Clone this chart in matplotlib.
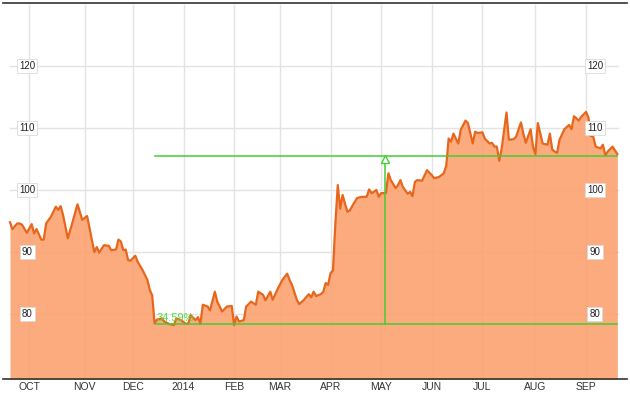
import matplotlib
matplotlib.use("Agg")
import matplotlib.pyplot as plt

plt.rcParams['font.family'] = ['Liberation Sans', 'DejaVu Sans']

# trading-day index and closing price
day = [0, 1, 3, 4, 5, 7, 9, 10, 11, 13, 14, 15, 17, 19, 20, 21, 22, 24, 26, 28,
       30, 32, 34, 35, 36, 37, 39, 41, 42, 44, 45, 46, 47, 48, 49, 50, 52, 53, 55, 57,
       58, 59, 60, 61, 63, 64, 66, 68, 69, 71, 73, 74, 75, 77, 78, 79, 80, 82, 83, 85,
       86, 88, 90, 92, 93, 94, 95, 97, 98, 100, 102, 103, 105, 106, 108, 109, 111, 113, 114, 115,
       116, 117, 119, 120, 122, 124, 125, 126, 127, 129, 130, 131, 132, 133, 134, 135, 136, 137, 138, 139,
       140, 141, 142, 144, 146, 148, 149, 150, 151, 152, 153, 154, 156, 157, 158, 160, 161, 162, 163, 165,
       166, 167, 168, 169, 171, 173, 175, 176, 178, 180, 181, 182, 183, 184, 186, 187, 189, 190, 192, 193,
       194, 196, 197, 199, 200, 201, 202, 203, 204, 206, 207, 209, 210, 212, 213, 214, 216, 217, 218, 219,
       221, 223, 224, 225, 226, 227, 228, 230, 232, 233, 234, 236, 237, 239, 240, 241, 242, 243, 245, 246,
       247, 248, 250, 252]
price = [94.8, 93.7, 94.6, 94.6, 94.4, 93.1, 94.5, 93.0, 93.7, 92.0, 92.0, 94.6, 95.7, 97.3, 96.8, 97.4, 96.0, 92.2, 94.9, 97.7,
         95.2, 95.8, 91.9, 90.0, 90.8, 89.9, 91.1, 91.0, 90.3, 90.4, 92.0, 91.7, 90.3, 90.4, 88.7, 88.6, 89.4, 88.4, 87.1, 85.5,
         83.9, 83.0, 78.5, 79.1, 79.3, 78.8, 78.4, 78.2, 79.3, 79.0, 78.4, 78.5, 79.8, 79.0, 79.5, 78.4, 81.5, 81.2, 80.6, 83.6,
         82.0, 80.4, 81.2, 81.3, 78.2, 79.6, 78.8, 79.0, 81.2, 82.0, 81.5, 83.6, 83.1, 82.2, 83.6, 82.3, 84.0, 85.5, 86.0, 86.5,
         85.5, 84.7, 82.3, 81.6, 82.3, 83.2, 82.7, 83.6, 82.9, 83.2, 83.6, 85.0, 84.7, 86.6, 87.0, 94.6, 100.8, 97.0, 99.2, 97.8,
         96.5, 96.7, 97.4, 98.7, 98.9, 98.9, 100.1, 99.5, 99.7, 100.0, 98.9, 99.5, 99.5, 102.7, 101.6, 100.3, 100.8, 101.6, 100.5, 99.4,
         99.7, 99.0, 101.3, 101.6, 101.5, 103.2, 102.4, 101.9, 102.1, 102.7, 103.9, 108.3, 107.8, 109.1, 107.5, 109.7, 111.2, 110.8, 107.5, 109.4,
         109.2, 109.3, 108.3, 107.5, 107.6, 107.0, 107.0, 104.7, 106.7, 112.5, 108.1, 108.2, 108.6, 110.9, 109.1, 107.6, 109.8, 107.0, 105.8, 110.8,
         107.5, 107.3, 109.1, 106.5, 106.2, 106.0, 108.1, 109.8, 110.5, 109.8, 111.9, 111.2, 111.8, 112.6, 111.7, 108.7, 108.6, 107.0, 106.7, 107.3,
         105.6, 106.2, 107.0, 105.8]

month_day = [8, 31, 51, 72, 93, 112, 133, 154, 175, 196, 218, 239]
month_labels = ["OCT", "NOV", "DEC", "2014", "FEB", "MAR", "APR", "MAY", "JUN", "JUL", "AUG", "SEP"]
y_levels = [80, 90, 100, 110, 120]

low_day = 60
low_price = 78.4
gain_pct = 34.59
marker_day = 155.6
high_price = low_price * (1 + gain_pct / 100)

fig = plt.figure(figsize=(6.3, 3.98), dpi=100)
ax = fig.add_axes([3 / 630, 19 / 398, 624 / 630, 376 / 398])
ax.set_xlim(-2.9, 256.0)
ax.set_ylim(69.52, 130.16)

# gridlines sit behind a slightly see-through fill
grid_col = "#e3e3e3"
for m in month_day:
    ax.plot([m, m], [69.52, 129.8], color=grid_col, lw=1, zorder=0)
for v in y_levels:
    ax.plot([0, day[-1] + 0.3], [v, v], color=grid_col, lw=1, zorder=0)

ax.fill_between(day, price, 60, color="#fba26f", alpha=0.9, lw=0, zorder=1)
ax.plot(day, price, color="#e8661c", lw=1.6, zorder=3, solid_joinstyle="round")

# price labels on both sides
for v in y_levels:
    for xpos in (7.1, 242.7):
        ax.text(xpos, v, str(v), fontsize=7, color="#222222", ha="center", va="center",
                zorder=6, bbox=dict(boxstyle="square,pad=0.22", fc="white", ec="#dadada", lw=0.6))

# percentage change marker
green = "#44cc33"
ax.plot([low_day, day[-1]], [low_price, low_price], color=green, lw=1.1, zorder=4)
ax.plot([low_day, day[-1]], [high_price, high_price], color=green, lw=1.1, zorder=4)
ax.plot([marker_day, marker_day], [low_price, high_price - 0.7], color=green, lw=1.1, zorder=4)
ax.plot([marker_day], [high_price - 0.45], marker="^", ms=6, mfc="white", mec=green, mew=1, zorder=5)
ax.text(low_day + 0.8, low_price + 0.2, f"{gain_pct:.2f}%", color="#55dd44", fontsize=8,
        ha="left", va="bottom", zorder=5)

ax.set_xticks(month_day)
ax.set_xticklabels(month_labels, fontsize=7.5, color="#333333")
ax.tick_params(axis="x", length=0, pad=2.5)
ax.set_yticks([])
for s in ("left", "right"):
    ax.spines[s].set_visible(False)
ax.spines["top"].set_color("#333333")
ax.spines["bottom"].set_color("#333333")
ax.spines["top"].set_linewidth(1.2)
ax.spines["bottom"].set_linewidth(1.2)

fig.savefig("out.png", dpi=100)
